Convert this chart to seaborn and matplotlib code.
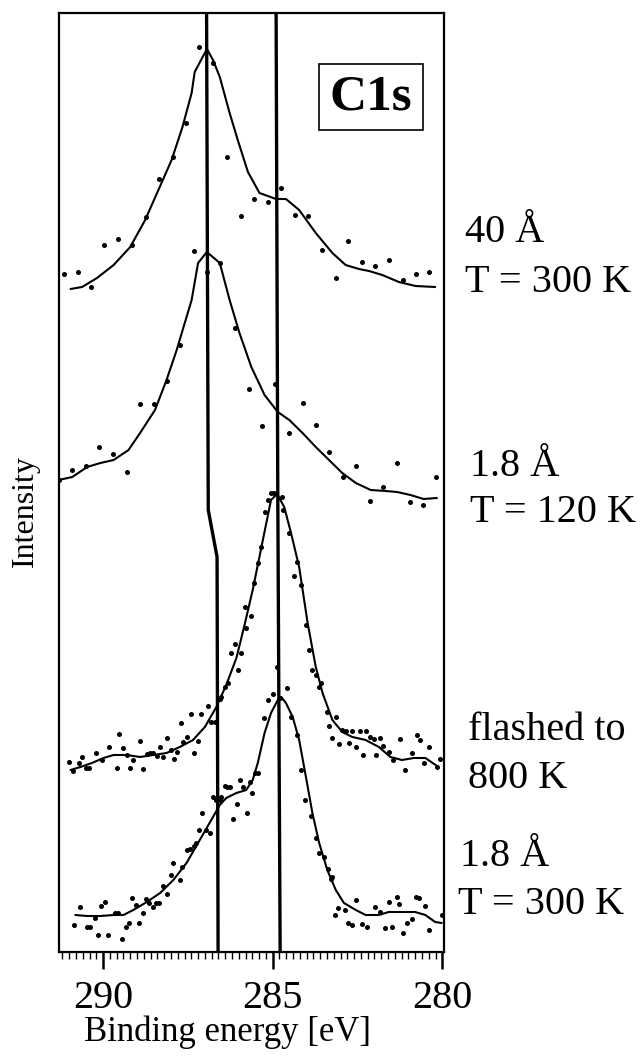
import matplotlib
matplotlib.use("Agg")
import matplotlib.pyplot as plt
from matplotlib.ticker import MultipleLocator
import seaborn as sns

# C1s spectra, binding energy (eV) and intensity (arb. units, offset per curve)
# 40 A, T = 300 K
s1_line_e = [290.96, 290.62, 290.18, 289.69, 289.20, 288.76, 288.37, 287.98, 287.66, 287.39,
             287.30, 286.94, 286.76, 286.56, 286.27, 286.03, 285.73, 285.39, 284.90, 284.61,
             284.22, 283.73, 283.24, 282.85, 282.46, 282.16, 281.77, 281.28, 280.79, 280.21]
s1_line_i = [6.66, 6.68, 6.77, 6.90, 7.08, 7.35, 7.65, 7.95, 8.28, 8.62,
             8.83, 9.06, 8.95, 8.78, 8.42, 8.15, 7.83, 7.62, 7.56, 7.56,
             7.45, 7.22, 7.02, 6.90, 6.86, 6.84, 6.80, 6.73, 6.69, 6.68]
s1_dot_e = [291.16, 290.74, 290.35, 289.96, 289.55, 289.15, 288.74, 288.35, 287.95, 287.56,
            287.17, 286.76, 286.34, 285.93, 285.54, 285.15, 284.75, 284.34, 283.95, 283.56,
            283.14, 282.77, 282.36, 281.97, 281.58, 281.17, 280.79, 280.38]
s1_dot_i = [6.81, 6.83, 6.68, 7.10, 7.16, 7.10, 7.38, 7.76, 7.98, 8.32,
            9.08, 8.92, 7.98, 7.39, 7.56, 7.53, 7.67, 7.40, 7.39, 7.05,
            6.77, 7.14, 6.93, 6.89, 6.95, 6.75, 6.81, 6.83]

# 1.8 A, T = 120 K
s2_line_e = [291.31, 290.91, 290.47, 290.08, 289.69, 289.25, 288.91, 288.47, 288.13, 287.83,
             287.54, 287.39, 287.20, 286.94, 286.56, 286.27, 285.98, 285.63, 285.24, 284.85,
             284.51, 284.12, 283.73, 283.34, 282.95, 282.55, 282.11, 281.67, 281.33, 280.94,
             280.55, 280.16]
s2_line_i = [4.75, 4.78, 4.88, 4.92, 4.95, 5.05, 5.22, 5.45, 5.75, 6.05,
             6.38, 6.55, 6.92, 7.03, 6.92, 6.55, 6.22, 5.88, 5.60, 5.43,
             5.35, 5.22, 5.08, 4.95, 4.82, 4.72, 4.65, 4.64, 4.63, 4.60,
             4.56, 4.57]
s2_dot_e = [291.31, 290.91, 290.49, 290.12, 289.71, 289.30, 288.91, 288.49, 288.13, 287.74,
            287.33, 286.94, 286.54, 286.12, 285.70, 285.32, 284.92, 284.53, 284.12, 283.73,
            283.34, 282.92, 282.54, 282.13, 281.74, 281.35, 280.96, 280.57, 280.18]
s2_dot_i = [4.75, 4.85, 4.89, 5.08, 5.01, 4.83, 5.51, 5.51, 5.74, 6.10,
            7.04, 6.83, 6.92, 6.27, 5.66, 5.29, 5.71, 5.22, 5.52, 5.30,
            5.03, 4.78, 4.89, 4.54, 4.68, 4.92, 4.53, 4.50, 4.78]

# flashed to 800 K
s3_line_e = [290.96, 290.67, 290.33, 289.99, 289.69, 289.30, 288.91, 288.52, 288.13, 287.74,
             287.35, 287.00, 286.66, 286.37, 286.07, 285.83, 285.59, 285.29, 285.05, 284.87,
             284.66, 284.46, 284.22, 283.97, 283.73, 283.53, 283.24, 282.95, 282.65, 282.26,
             281.87, 281.53, 281.19, 280.84, 280.50, 280.11]
s3_line_i = [1.85, 1.88, 1.92, 1.97, 2.00, 2.00, 1.98, 2.00, 2.02, 2.08,
             2.15, 2.28, 2.48, 2.70, 2.97, 3.30, 3.65, 4.15, 4.55, 4.61,
             4.48, 4.22, 3.88, 3.32, 2.88, 2.62, 2.35, 2.23, 2.18, 2.15,
             2.08, 1.98, 1.95, 1.97, 1.97, 1.88]
s3_dot_e = [291.01, 290.88, 290.72, 290.62, 290.49, 290.43, 290.21, 290.03, 289.82, 289.59,
            289.53, 289.40, 289.30, 289.20, 289.11, 288.91, 288.81, 288.71, 288.62, 288.52,
            288.42, 288.32, 288.23, 288.13, 288.01, 287.91, 287.83, 287.71, 287.64, 287.54,
            287.41, 287.32, 287.20, 287.10, 286.91, 286.81, 286.71, 286.56, 286.51, 286.42,
            286.32, 286.22, 286.12, 286.03, 285.93, 285.83, 285.78, 285.63, 285.54, 285.44,
            285.34, 285.22, 285.15, 285.05, 284.95, 284.72, 284.71, 284.53, 284.36, 284.27,
            284.17, 284.02, 283.92, 283.83, 283.73, 283.63, 283.58, 283.41, 283.34, 283.24,
            283.14, 283.04, 282.95, 282.85, 282.75, 282.65, 282.53, 282.43, 282.33, 282.26,
            282.14, 282.02, 281.94, 281.84, 281.75, 281.58, 281.45, 281.26, 281.09, 280.90,
            280.75, 280.65, 280.55, 280.38, 280.16, 280.06]
s3_dot_i = [1.93, 1.84, 1.92, 1.98, 1.87, 1.87, 2.02, 1.95, 2.08, 1.87,
            2.21, 2.07, 2.00, 1.87, 1.95, 2.14, 1.86, 2.01, 2.02, 2.02,
            1.99, 2.08, 1.98, 2.17, 2.05, 1.96, 2.03, 2.32, 2.13, 2.18,
            2.41, 2.02, 2.14, 2.41, 2.49, 2.33, 2.33, 2.56, 2.58, 2.68,
            2.72, 3.02, 3.11, 2.85, 3.02, 3.48, 3.27, 3.39, 3.72, 3.92,
            4.08, 4.43, 4.55, 4.62, 4.62, 4.58, 4.45, 4.22, 3.79, 3.93,
            3.70, 3.30, 3.05, 2.85, 2.80, 2.68, 2.72, 2.43, 2.29, 2.17,
            2.38, 2.11, 2.25, 2.24, 2.12, 2.24, 2.08, 2.24, 2.00, 2.24,
            2.18, 2.16, 2.00, 2.17, 2.09, 2.03, 1.95, 2.16, 1.85, 2.02,
            2.20, 2.15, 1.92, 2.08, 1.88, 1.96]

# 1.8 A, T = 300 K
s4_line_e = [290.82, 290.47, 290.08, 289.69, 289.40, 289.11, 288.71, 288.32, 287.93, 287.54,
             287.15, 286.76, 286.56, 286.37, 286.07, 285.78, 285.59, 285.44, 285.24, 285.05,
             284.85, 284.75, 284.61, 284.41, 284.22, 284.02, 283.83, 283.63, 283.39, 283.14,
             282.90, 282.55, 282.26, 281.87, 281.58, 281.19, 280.80, 280.50, 280.21, 280.02]
s4_line_i = [0.40, 0.39, 0.39, 0.40, 0.40, 0.45, 0.53, 0.62, 0.75, 0.92,
             1.15, 1.38, 1.50, 1.57, 1.62, 1.65, 1.75, 1.92, 2.22, 2.42,
             2.55, 2.58, 2.52, 2.38, 2.15, 1.78, 1.42, 1.12, 0.85, 0.65,
             0.52, 0.45, 0.40, 0.40, 0.43, 0.43, 0.43, 0.40, 0.33, 0.32]
s4_dot_e = [290.85, 290.67, 290.47, 290.38, 290.25, 290.15, 290.05, 289.94, 289.86, 289.64,
            289.55, 289.43, 289.33, 289.23, 289.14, 289.04, 288.94, 288.83, 288.74, 288.65,
            288.54, 288.44, 288.34, 288.23, 288.13, 288.01, 287.93, 287.74, 287.66, 287.54,
            287.44, 287.32, 287.25, 287.17, 287.07, 286.97, 286.86, 286.76, 286.68, 286.56,
            286.51, 286.42, 286.34, 286.27, 286.17, 286.06, 285.96, 285.88, 285.76, 285.68,
            285.62, 285.51, 285.44, 285.26, 285.15, 284.98, 284.88, 284.78, 284.58, 284.46,
            284.29, 284.17, 284.04, 283.87, 283.73, 283.63, 283.48, 283.37, 283.27, 283.24,
            283.17, 283.07, 282.88, 282.77, 282.65, 282.53, 282.36, 282.21, 281.99, 281.84,
            281.68, 281.58, 281.48, 281.35, 281.29, 281.16, 281.04, 280.89, 280.77, 280.70,
            280.50, 280.38, 280.02]
s4_dot_i = [0.30, 0.48, 0.28, 0.28, 0.37, 0.20, 0.49, 0.53, 0.20, 0.42,
            0.42, 0.16, 0.28, 0.32, 0.57, 0.50, 0.32, 0.42, 0.56, 0.52,
            0.48, 0.52, 0.52, 0.69, 0.61, 0.80, 0.92, 0.75, 0.88, 1.05,
            1.06, 1.09, 1.12, 1.25, 1.42, 1.25, 1.22, 1.58, 1.55, 1.55,
            1.58, 1.69, 1.68, 1.68, 1.36, 1.51, 1.75, 1.68, 1.42, 1.73,
            1.62, 1.82, 1.82, 2.37, 2.55, 2.61, 2.88, 2.57, 2.67, 2.38,
            2.20, 1.85, 1.55, 1.39, 1.17, 1.02, 0.98, 0.86, 0.76, 0.78,
            0.40, 0.47, 0.45, 0.32, 0.30, 0.55, 0.31, 0.28, 0.48, 0.43,
            0.27, 0.53, 0.28, 0.58, 0.51, 0.22, 0.32, 0.36, 0.58, 0.57,
            0.49, 0.25, 0.40]

# reference lines (eV) through the peaks
ref1_e = [286.95, 286.90, 286.64, 286.61]
ref1_i = [9.50, 4.45, 3.98, 0.0]
ref2_e = [284.90, 284.85, 284.78]
ref2_i = [9.50, 4.60, 0.0]

# curve labels on the right: text, left edge px, baseline px
labels = [("40 Å", 465, 242), ("T = 300 K", 465, 292),
          ("1.8 Å", 470, 476), ("T = 120 K", 470, 522),
          ("flashed to", 468, 740), ("800 K", 468, 788),
          ("1.8 Å", 460, 866), ("T = 300 K", 458, 914)]

sns.set_style("ticks")
serif = ["Liberation Serif", "DejaVu Serif"]
plt.rcParams["font.family"] = serif
plt.rcParams["text.color"] = "black"
plt.rcParams["axes.labelcolor"] = "black"
plt.rcParams["xtick.color"] = "black"
plt.rcParams["axes.edgecolor"] = "black"
plt.rcParams["axes.linewidth"] = 1.6

W, H = 644, 1060
fig = plt.figure(figsize=(W / 100, H / 100), dpi=100)
ax = fig.add_axes([59 / W, 1 - 952 / H, (444 - 59) / W, (952 - 13) / H])

ax.plot(ref1_e, ref1_i, color="black", lw=2.4)
ax.plot(ref2_e, ref2_i, color="black", lw=2.4)

spectra = [(s1_line_e, s1_line_i, s1_dot_e, s1_dot_i),
           (s2_line_e, s2_line_i, s2_dot_e, s2_dot_i),
           (s3_line_e, s3_line_i, s3_dot_e, s3_dot_i),
           (s4_line_e, s4_line_i, s4_dot_e, s4_dot_i)]
for le, li, de, di in spectra:
    sns.lineplot(x=le, y=li, ax=ax, color="black", lw=1.5, sort=False, estimator=None)
    sns.scatterplot(x=de, y=di, ax=ax, color="black", s=13, linewidth=0)

ax.set_xlim(291.3, 279.95)
ax.set_ylim(0.03, 9.42)
ax.set_xticks([290, 285, 280])
ax.xaxis.set_minor_locator(MultipleLocator(0.2))
ax.set_yticks([])
ax.tick_params(axis="x", which="major", direction="out", length=12, width=1.8,
               labelsize=29, pad=8, colors="black")
ax.tick_params(axis="x", which="minor", direction="out", length=5, width=1.0)
for sp in ax.spines.values():
    sp.set_visible(True)
    sp.set_color("black")
ax.set_xlabel("")
ax.set_ylabel("")

ax.text(371 / W, 1 - 97 / H, "C1s", transform=fig.transFigure, ha="center", va="center",
        fontsize=37, fontweight="bold", family=serif, color="black",
        bbox=dict(boxstyle="square,pad=0.2", fc="white", ec="black", lw=1.2))

for txt, px, py in labels:
    fig.text(px / W, 1 - py / H, txt, ha="left", va="baseline", fontsize=29,
             family=serif, color="black")

fig.text(25 / W, 1 - 511 / H, "Intensity", rotation=90, ha="center", va="center",
         fontsize=23, family=serif, color="black")
fig.text(228 / W, 1 - 1032 / H, "Binding energy [eV]", ha="center", va="center",
         fontsize=25, family=serif, color="black")

fig.savefig("out.png", dpi=100)
